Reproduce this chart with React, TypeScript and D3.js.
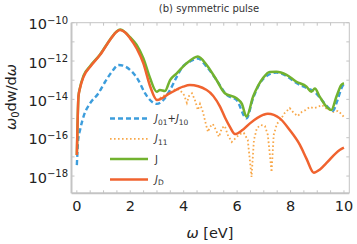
import React from "react";
import * as d3 from "d3";

// ---- data ----
const jdOmega = [0, 0.03, 0.06, 0.12, 0.25, 0.5, 0.87, 1.24, 1.49, 1.62, 1.8, 1.99, 2.24, 2.49, 2.74, 3.0, 3.49, 3.98, 4.23, 4.86, 5.36, 5.55, 5.73, 5.92, 6.2, 6.48, 6.97, 7.15, 7.6, 7.97, 8.35, 8.6, 8.87, 9.1, 9.34, 9.84, 10.0];
const jdValue = [1.26e-17, 8.3e-16, 1.38e-14, 3.9e-14, 1.5e-13, 5.0e-13, 2.1e-12, 1.26e-11, 3.4e-11, 4.2e-11, 3.2e-11, 1.55e-11, 4.6e-12, 7.6e-13, 5.0e-14, 9.3e-15, 2.1e-14, 4.6e-14, 5.6e-14, 3.1e-14, 4.2e-15, 1.1e-15, 3.7e-16, 1.55e-16, 2.5e-16, 5.6e-16, 1.55e-15, 1.8e-15, 1.02e-15, 2.5e-16, 4.2e-17, 7.9e-18, 1.5e-18, 2.2e-18, 4.7e-18, 2.3e-17, 3.0e-17];

const jOmega = [0, 0.03, 0.06, 0.12, 0.25, 0.5, 0.87, 1.24, 1.49, 1.62, 1.84, 2.0, 2.24, 2.49, 2.74, 2.99, 3.11, 3.3, 3.49, 3.74, 4.11, 4.36, 4.53, 4.86, 5.23, 5.54, 5.98, 6.18, 6.35, 6.6, 6.97, 7.22, 7.47, 7.85, 8.22, 8.6, 8.78, 8.91, 9.09, 9.34, 9.53, 9.72, 9.9, 10.0];
const jValue = [1.26e-17, 8.3e-16, 1.4e-14, 4.2e-14, 1.7e-13, 5.5e-13, 2.2e-12, 1.3e-11, 3.5e-11, 4.4e-11, 2.9e-11, 1.7e-11, 6.9e-12, 1.4e-12, 1.3e-13, 2.5e-14, 3.1e-14, 2.75e-14, 1.02e-13, 2.3e-13, 7.6e-13, 1.4e-12, 1.7e-12, 6.2e-13, 1.02e-13, 2.1e-14, 1.15e-14, 5.8e-15, 1.26e-15, 1.4e-14, 1.3e-13, 2.7e-13, 2.75e-13, 1.9e-13, 8.3e-14, 4.6e-14, 2.5e-14, 3.7e-14, 1.4e-14, 4.2e-15, 2.8e-15, 1.4e-14, 5.6e-14, 6.9e-14];

const j0110Omega = [0, 0.05, 0.12, 0.25, 0.5, 0.81, 1.06, 1.31, 1.56, 1.77, 2.06, 2.3, 2.55, 2.74, 2.99, 3.24, 3.49, 3.74, 3.98, 4.23, 4.53, 4.86, 5.23, 5.61, 5.98, 6.35, 6.6, 6.97, 7.47, 7.85, 8.22, 8.6, 8.91, 9.17, 9.47, 9.58, 9.76, 9.91, 10.0];
const j0110Value = [3.7e-18, 7.6e-17, 2.5e-16, 1.26e-15, 6.3e-15, 2.1e-14, 8.3e-14, 2.75e-13, 6.2e-13, 5.5e-13, 2.8e-13, 1.02e-13, 2.1e-14, 9.3e-15, 5.8e-15, 9.3e-15, 3.1e-14, 1.5e-13, 5.5e-13, 9.3e-13, 1.35e-12, 5.0e-13, 1.02e-13, 1.7e-14, 9.3e-15, 1.02e-15, 1.17e-14, 1.15e-13, 2.5e-13, 1.66e-13, 7.1e-14, 3.9e-14, 2.4e-14, 9.3e-15, 3.2e-15, 2.5e-15, 9.3e-15, 3.9e-14, 6.3e-14];

const j11Omega = [3.11, 3.3, 3.49, 3.71, 3.86, 4.01, 4.12, 4.2, 4.31, 4.42, 4.53, 4.61, 4.72, 4.83, 4.91, 4.98, 5.09, 5.21, 5.32, 5.43, 5.54, 5.65, 5.8, 5.95, 6.1, 6.25, 6.4, 6.54, 6.63, 6.74, 6.89, 7.04, 7.15, 7.29, 7.37, 7.49, 7.64, 7.78, 7.97, 8.12, 8.27, 8.42, 8.57, 8.72, 8.87, 9.02, 9.17, 9.32, 9.47, 9.62, 9.77, 9.91, 10.0];
const j11Value = [1.17e-14, 1.7e-14, 2.4e-14, 3.5e-14, 3.1e-14, 1.7e-14, 6.5e-15, 1.5e-14, 2.1e-14, 9.3e-15, 2.8e-15, 5.8e-15, 2.2e-15, 5.2e-16, 2.0e-16, 3.6e-16, 5.2e-16, 2.5e-16, 1.1e-16, 3.2e-16, 4.1e-16, 1.4e-16, 6.0e-17, 9.8e-17, 1.55e-16, 1.8e-16, 7.6e-17, 8.9e-19, 7.6e-17, 3.2e-16, 4.6e-16, 4.1e-16, 1.4e-16, 1.6e-18, 1.4e-16, 5.2e-16, 9.5e-16, 1.95e-15, 3.5e-15, 1.95e-15, 1.35e-15, 2.2e-15, 2.8e-15, 4.0e-15, 3.5e-15, 4.0e-15, 5.1e-15, 3.5e-15, 2.8e-15, 2.2e-15, 2.5e-15, 1.7e-15, 1.2e-15];

const xTickLabels = [0, 2, 4, 6, 8, 10];
const yTickExponents = [-10, -12, -14, -16, -18];

const C_BLUE = "#3c9ddc";
const C_ORANGE = "#f8a84a";
const C_GREEN = "#72b22f";
const C_RED = "#f0632f";
const FRAME = "#c4c4c4";
const TEXT = "#222";
const FONT = "DejaVu Sans, sans-serif";

const W = 357, H = 244;
const X0 = 71.5, X1 = 349.3, Y0 = 193.3, Y1 = 22.7;

export default function App() {
  const x = d3.scaleLinear().domain([-0.2, 10.2]).range([X0, X1]);
  const y = d3.scaleLog().domain([Math.pow(10, -18.9), 1e-10]).range([Y0, Y1]);

  const mk = (om: number[], val: number[]) => om.map((o, i) => [o, val[i]] as [number, number]);
  const smooth = d3.line<[number, number]>().x(d => x(d[0])).y(d => y(d[1])).curve(d3.curveMonotoneX);
  const straight = d3.line<[number, number]>().x(d => x(d[0])).y(d => y(d[1]));

  const xMinor = d3.range(0, 10.01, 0.5);
  const yAll = d3.range(-10, -19, -1);

  const legend = [
    { color: C_BLUE, dash: "5,3", w: 2.4, label: [["J", "i"], ["01", "s"], ["+", "n"], ["J", "i"], ["10", "s"]] },
    { color: C_ORANGE, dash: "1.6,2.4", w: 1.8, label: [["J", "i"], ["11", "s"]] },
    { color: C_GREEN, dash: null, w: 2.5, label: [["J", "n"]] },
    { color: C_RED, dash: null, w: 2.5, label: [["J", "i"], ["D", "s"]] },
  ];

  return (
    <svg width={W} height={H} style={{ position: "absolute", left: 0, top: 0, background: "#fff" }} fontFamily={FONT}>
      <defs>
        <clipPath id="plotclip">
          <rect x={X0} y={Y1} width={X1 - X0} height={Y0 - Y1} />
        </clipPath>
      </defs>
      {/* title */}
      <text x={209} y={11.5} fontSize={10} fill="#333" textAnchor="middle">(b) symmetric pulse</text>

      {/* frame */}
      <line x1={X0} x2={X1} y1={Y1} y2={Y1} stroke={FRAME} strokeWidth={1} />
      <line x1={X1} x2={X1} y1={Y1} y2={Y0} stroke={FRAME} strokeWidth={1} />
      <line x1={X0} x2={X1} y1={Y0} y2={Y0} stroke={FRAME} strokeWidth={2} />
      <line x1={X0} x2={X0} y1={Y1} y2={Y0} stroke={FRAME} strokeWidth={2} />

      {/* x ticks */}
      {xMinor.map(t => (
        <g key={"xt" + t}>
          <line x1={x(t)} x2={x(t)} y1={Y0} y2={Y0 - 3} stroke={FRAME} strokeWidth={1} />
          <line x1={x(t)} x2={x(t)} y1={Y1} y2={Y1 + 3} stroke={FRAME} strokeWidth={1} />
        </g>
      ))}
      {yAll.map(e => (
        <g key={"yt" + e}>
          <line x1={X0} x2={X0 + 3} y1={y(Math.pow(10, e))} y2={y(Math.pow(10, e))} stroke={FRAME} strokeWidth={1} />
          <line x1={X1} x2={X1 - 3} y1={y(Math.pow(10, e))} y2={y(Math.pow(10, e))} stroke={FRAME} strokeWidth={1} />
        </g>
      ))}

      {/* x tick labels */}
      {xTickLabels.map(t => (
        <text key={"xl" + t} x={x(t)} y={210.7} fontSize={14.5} fill={TEXT} textAnchor="middle">{t}</text>
      ))}
      {/* y tick labels */}
      {yTickExponents.map(e => (
        <text key={"yl" + e} x={68} y={y(Math.pow(10, e)) + 6.6} fontSize={14.5} fill={TEXT} textAnchor="end">
          10<tspan dy={-5.5} fontSize={10}>{"\u2212" + Math.abs(e)}</tspan>
        </text>
      ))}

      {/* axis labels */}
      <text x={210} y={238} fontSize={14.5} fill={TEXT} textAnchor="middle">
        <tspan fontStyle="italic">ω</tspan> [eV]
      </text>
      <text transform="translate(16,97) rotate(-90)" fontSize={14.5} fill={TEXT} textAnchor="middle">
        <tspan fontStyle="italic">ω</tspan>
        <tspan dy={3} fontSize={10}>0</tspan>
        <tspan dy={-3}>dw/d</tspan>
        <tspan fontStyle="italic">ω</tspan>
      </text>

      {/* curves */}
      <g clipPath="url(#plotclip)" fill="none">
        <path d={straight(mk(j11Omega, j11Value)) || ""} stroke={C_ORANGE} strokeWidth={1.8} strokeDasharray="1.6,2.4" />
        <path d={smooth(mk(j0110Omega, j0110Value)) || ""} stroke={C_BLUE} strokeWidth={2.4} strokeDasharray="5,3" />
        <path d={smooth(mk(jOmega, jValue)) || ""} stroke={C_GREEN} strokeWidth={2.5} />
        <path d={smooth(mk(jdOmega, jdValue)) || ""} stroke={C_RED} strokeWidth={2.5} />
      </g>

      {/* legend */}
      {legend.map((l, i) => {
        const ly = 118.5 + i * 20.3;
        return (
          <g key={"lg" + i}>
            <line x1={110} x2={148} y1={ly} y2={ly} stroke={l.color} strokeWidth={l.w} strokeDasharray={l.dash || undefined} />
            <text x={155} y={ly + 3.5} fontSize={10} fill="#333">
              {l.label.map((p, k) => {
                const prev = k > 0 ? l.label[k - 1][1] : "n";
                const isSub = p[1] === "s";
                const dy = isSub && prev !== "s" ? 2.5 : !isSub && prev === "s" ? -2.5 : 0;
                return (
                  <tspan key={k} dy={dy || undefined} fontStyle={p[1] === "i" ? "italic" : undefined} fontSize={isSub ? 7.5 : undefined}>{p[0]}</tspan>
                );
              })}
            </text>
          </g>
        );
      })}
    </svg>
  );
}
